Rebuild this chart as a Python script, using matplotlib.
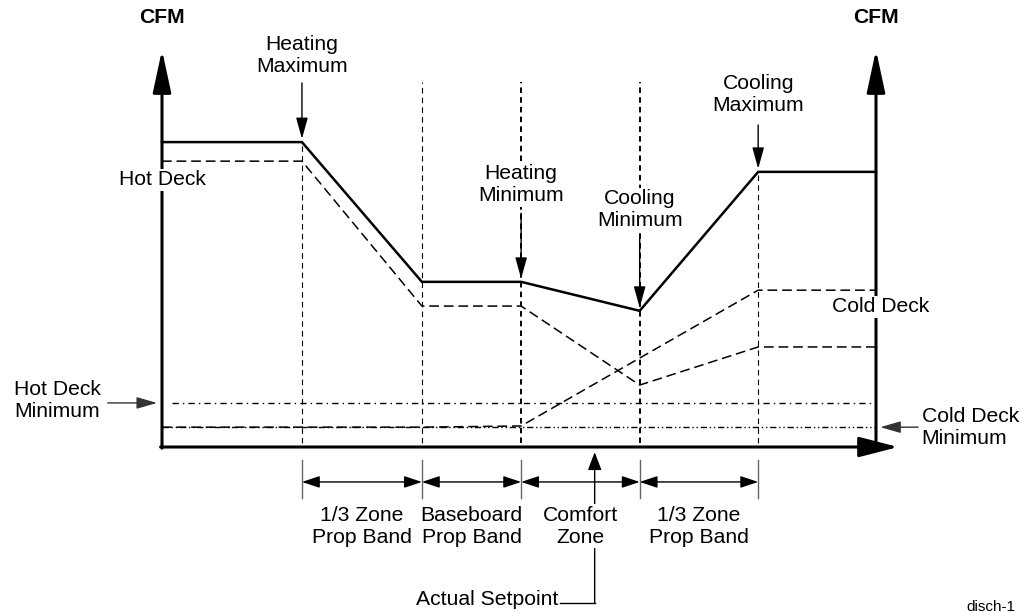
import matplotlib.pyplot as plt

plt.rcParams['font.family'] = ['Liberation Sans', 'DejaVu Sans']
plt.rcParams['lines.scale_dashes'] = False

# schematic values: x = zone temperature position (0..100), y = CFM (0..100)
band_edges = [19.6, 36.4, 50.3, 66.9, 83.5]
curve_x = [0, 19.6, 36.4, 50.3, 66.9, 83.5, 100]
total_cfm = [76.8, 76.8, 41.6, 41.6, 34.3, 69.3, 69.3]
hot_deck_cfm = [72.0, 72.0, 35.5, 35.5, 15.6, 25.2, 25.2]
cold_deck_cfm = [5.0, 5.0, 5.0, 5.3, 22.4, 39.5, 39.5]
hot_deck_min = 11.1
cold_deck_min = 5.0
setpoint = 60.6
band_labels = ['1/3 Zone\nProp Band', 'Baseboard\nProp Band', 'Comfort\nZone', '1/3 Zone\nProp Band']
point_labels = ['Heating\nMaximum', 'Heating\nMinimum', 'Cooling\nMinimum', 'Cooling\nMaximum']
point_idx = [1, 3, 4, 5]

FS = 15.2
fig = plt.figure(figsize=(10.28, 6.13), dpi=100)
ax = fig.add_axes([0, 0, 1, 1])
ax.set_xlim(-22.69, 121.29)
ax.set_ylim(-41.81, 112.59)
ax.axis('off')

def arrow(x0, y0, x1, y1, hl, hw, lw=1.0, color='k', style='-|>', z=3):
    ax.annotate('', xy=(x1, y1), xytext=(x0, y0),
                arrowprops=dict(arrowstyle='%s,head_length=%g,head_width=%g' % (style, hl, hw),
                                lw=lw, color=color, shrinkA=0, shrinkB=0,
                                mutation_scale=10),
                zorder=z)

# axes with arrows
arrow(0, -0.3, 0, 100, 2.6, 0.56, lw=2.2)
arrow(100, -0.3, 100, 100, 2.6, 0.56, lw=2.2)
arrow(-0.2, 0, 103.1, 0, 2.4, 0.62, lw=2.2)

# vertical guides
guide_top = [total_cfm[1], 91.9, 91.9, 91.9, total_cfm[5]]
guide_lw = [0.8, 0.8, 1.4, 1.4, 0.8]
for x, top, lw in zip(band_edges, guide_top, guide_lw):
    ax.plot([x, x], [1.0, top], color='k', lw=lw, ls=(0, (4, 3)), zorder=1)

# minimum lines
ax.plot([1.4, 100], [hot_deck_min] * 2, color='k', lw=1.0, ls=(0, (4.5, 3, 1, 3)), zorder=2)
ax.plot([0, 100], [cold_deck_min] * 2, color='k', lw=1.0, ls=(0, (4.5, 2, 1, 2, 1, 2)), zorder=2)

# curves
ax.plot(curve_x, total_cfm, color='k', lw=1.8, solid_joinstyle='miter', zorder=4)
ax.plot(curve_x, hot_deck_cfm, color='k', lw=1.1, ls=(0, (7, 3.5)), zorder=4)
ax.plot(curve_x, cold_deck_cfm, color='k', lw=1.1, ls=(0, (7, 3.5)), zorder=4)

# labels
ax.text(0, 108.3, 'CFM', ha='center', va='center', fontsize=FS, fontweight='bold')
ax.text(100, 108.3, 'CFM', ha='center', va='center', fontsize=FS, fontweight='bold')
ax.text(0, 67.3, 'Hot Deck', ha='center', va='center', fontsize=FS, zorder=5,
        bbox=dict(fc='white', ec='none', pad=1))
ax.text(100.6, 35.3, 'Cold Deck', ha='center', va='center', fontsize=FS, zorder=5,
        bbox=dict(fc='white', ec='none', pad=1))

text_y = [98.7, 66.0, 59.8, 88.7]
tail_y = [91.7, 58.9, 52.6, 81.1]
for lab, i, ty, tl in zip(point_labels, point_idx, text_y, tail_y):
    x = curve_x[i]
    ax.text(x, ty, lab, ha='center', va='center', fontsize=FS, zorder=5,
            bbox=dict(fc='white', ec='none', pad=1))
    arrow(x, tl, x, total_cfm[i] + 0.8, 1.3, 0.36, lw=1.0, z=6)

# minimum callouts
ax.text(-20.7, 11.8, 'Hot Deck\nMinimum', ha='left', va='center', fontsize=FS)
arrow(-7.6, hot_deck_min, -0.7, hot_deck_min, 1.25, 0.36, lw=1.0, color='#333333')
ax.text(106.4, 4.8, 'Cold Deck\nMinimum', ha='left', va='center', fontsize=FS)
arrow(105.9, cold_deck_min, 100.6, cold_deck_min, 1.25, 0.36, lw=1.0, color='#333333')

# bands under the axis
for x in band_edges:
    ax.plot([x, x], [-3.3, -12.8], color='#666666', lw=1.0)
for a, b, lab in zip(band_edges[:-1], band_edges[1:], band_labels):
    arrow(a, -8.8, b, -8.8, 1.08, 0.36, lw=1.0, style='<|-|>')
    ax.text((a + b) / 2, -19.9, lab, ha='center', va='center', fontsize=FS, zorder=5,
            bbox=dict(fc='white', ec='none', pad=1))

# actual setpoint
ax.plot([55.7, setpoint], [-39.3, -39.3], color='k', lw=1.0)
arrow(setpoint, -39.3, setpoint, -1.3, 1.1, 0.42, lw=1.0, z=2)
ax.text(55.5, -38.5, 'Actual Setpoint', ha='right', va='center', fontsize=FS)

ax.text(116.1, -40.3, 'disch-1', ha='center', va='center', fontsize=11)

fig.savefig('out.png', dpi=100)
